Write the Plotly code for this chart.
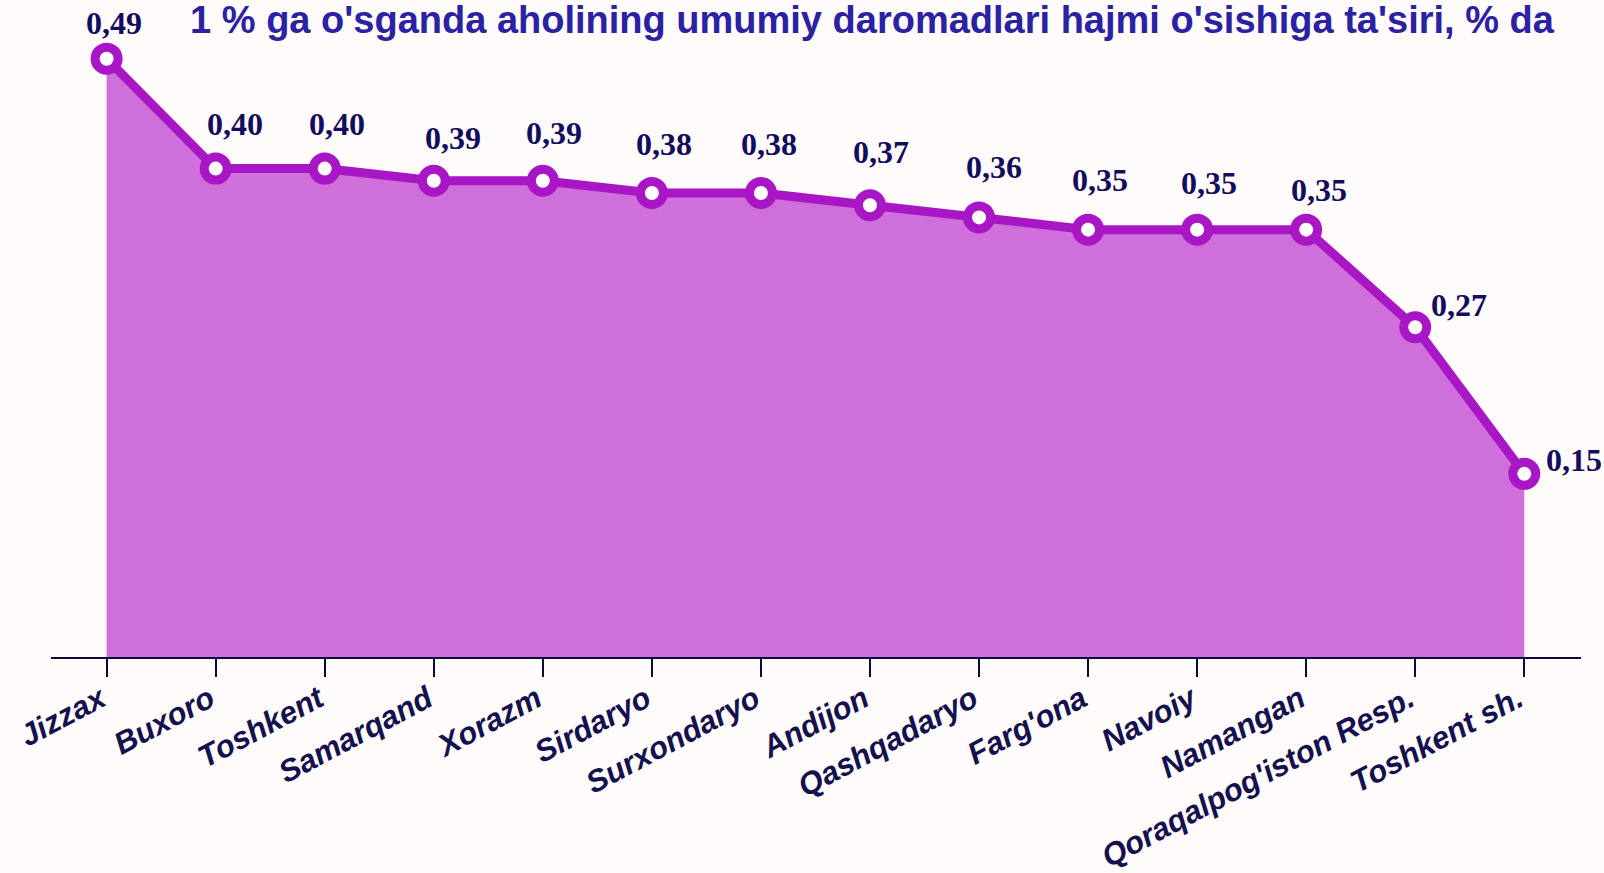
import plotly.graph_objects as go

regions = ["Jizzax", "Buxoro", "Toshkent", "Samarqand", "Xorazm", "Sirdaryo",
           "Surxondaryo", "Andijon", "Qashqadaryo", "Farg'ona", "Navoiy",
           "Namangan", "Qoraqalpog'iston Resp.", "Toshkent sh."]
values = [0.49, 0.40, 0.40, 0.39, 0.39, 0.38, 0.38, 0.37, 0.36, 0.35, 0.35, 0.35, 0.27, 0.15]
value_labels = ["0,49", "0,40", "0,40", "0,39", "0,39", "0,38", "0,38", "0,37",
                "0,36", "0,35", "0,35", "0,35", "0,27", "0,15"]
title_text = "1 % ga o'sganda aholining umumiy daromadlari hajmi o'sishiga ta'siri, % da"

# label pixel offsets (style only)
label_dx = [7, 19, 12, 19, 11, 12, 8, 11, 15, 12, 12, 13, 44, 50]
label_dy = [36, 45, 45, 43, 48, 49, 49, 53, 50, 50, 47, 40, 22, 14]

x_idx = list(range(len(regions)))

fig = go.Figure()
fig.add_trace(go.Scatter(
    x=x_idx, y=values, mode="lines+markers",
    fill="tozeroy", fillcolor="#CE6FDA",
    line=dict(color="#A816C6", width=9),
    marker=dict(size=23, color="white", line=dict(color="#A816C6", width=9)),
    cliponaxis=False, hoverinfo="skip", showlegend=False,
))

for i, (v, t) in enumerate(zip(values, value_labels)):
    fig.add_annotation(
        x=x_idx[i], y=v, text=t, showarrow=False,
        xshift=label_dx[i], yshift=label_dy[i],
        font=dict(family="Liberation Serif", size=32, color="#120D5E", weight="bold"),
        xanchor="center", yanchor="middle",
    )

fig.update_layout(
    width=1604, height=873,
    paper_bgcolor="#FFFBFA", plot_bgcolor="#FFFBFA",
    margin=dict(l=51, r=23, t=40, b=216, autoexpand=False),
    title=dict(text="<b>" + title_text + "</b>", x=872 / 1604, xanchor="center",
               y=1 - 20 / 873, yanchor="middle", automargin=False,
               font=dict(family="Liberation Sans", size=38, color="#2B21A3")),
    xaxis=dict(
        range=[-0.51, 13.52], tickmode="array", tickvals=x_idx, ticktext=regions,
        tickangle=-28, showgrid=False, zeroline=False, automargin=False,
        showline=True, linecolor="#0D0A3A", linewidth=2,
        ticks="outside", ticklen=18, tickwidth=2, tickcolor="#0D0A3A",
        ticklabelstandoff=-8, ticklabelshift=-6,
        tickfont=dict(family="Liberation Sans", size=31, color="#14114F",
                      weight="bold", style="italic"),
    ),
    yaxis=dict(range=[0, 0.5053], visible=False, showgrid=False, zeroline=False,
               automargin=False),
)

fig.write_html("out.html", config={"displayModeBar": False},
               post_script="document.body.style.margin='0';document.body.style.background='#FFFBFA';")
